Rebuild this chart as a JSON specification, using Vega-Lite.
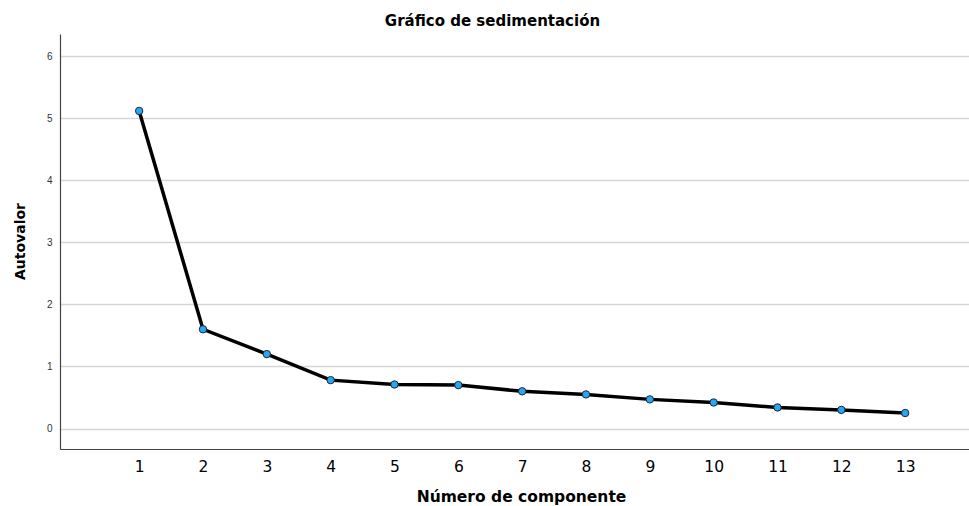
{
  "$schema": "https://vega.github.io/schema/vega-lite/v6.json",
  "autosize": "none",
  "width": 909,
  "height": 415,
  "padding": {"left": 60, "top": 34, "right": 0, "bottom": 57},
  "background": "white",
  "config": {
    "view": {"stroke": null},
    "font": "DejaVu Sans"
  },
  "title": {
    "text": "Gráfico de sedimentación",
    "font": "DejaVu Sans",
    "fontSize": 15,
    "fontWeight": "bold",
    "color": "#000000",
    "anchor": "middle",
    "dx": -22,
    "offset": 5
  },
  "data": {
    "values": [
      {"componente": 1, "autovalor": 5.12},
      {"componente": 2, "autovalor": 1.60},
      {"componente": 3, "autovalor": 1.20},
      {"componente": 4, "autovalor": 0.78},
      {"componente": 5, "autovalor": 0.71},
      {"componente": 6, "autovalor": 0.70},
      {"componente": 7, "autovalor": 0.60},
      {"componente": 8, "autovalor": 0.55},
      {"componente": 9, "autovalor": 0.47},
      {"componente": 10, "autovalor": 0.42},
      {"componente": 11, "autovalor": 0.34},
      {"componente": 12, "autovalor": 0.30},
      {"componente": 13, "autovalor": 0.25}
    ]
  },
  "encoding": {
    "x": {
      "field": "componente",
      "type": "quantitative",
      "scale": {"domain": [-0.24, 14.0], "nice": false, "zero": false},
      "axis": {
        "title": "Número de componente",
        "titleFont": "DejaVu Sans",
        "titleFontSize": 15.5,
        "titleFontWeight": "bold",
        "titleColor": "#000000",
        "titleX": 461,
        "titleY": 52,
        "titleBaseline": "alphabetic",
        "values": [1, 2, 3, 4, 5, 6, 7, 8, 9, 10, 11, 12, 13],
        "labelFontSize": 15.5,
        "labelColor": "#000000",
        "labelFont": "DejaVu Sans",
        "labelPadding": 10,
        "ticks": false,
        "grid": false,
        "domainColor": "#444444",
        "domainWidth": 1.2
      }
    },
    "y": {
      "field": "autovalor",
      "type": "quantitative",
      "scale": {"domain": [-0.33, 6.36], "nice": false, "zero": false},
      "axis": {
        "title": "Autovalor",
        "titleFont": "DejaVu Sans",
        "titleFontSize": 14,
        "titleFontWeight": "bold",
        "titleColor": "#000000",
        "titleX": -36,
        "titleY": 207,
        "titleBaseline": "alphabetic",
        "values": [0, 1, 2, 3, 4, 5, 6],
        "labelFontSize": 10,
        "labelColor": "#333333",
        "labelFont": "Liberation Sans",
        "labelPadding": 8,
        "ticks": false,
        "grid": true,
        "gridColor": "#d6d6d6",
        "gridWidth": 1.3,
        "domainColor": "#444444",
        "domainWidth": 1.2
      }
    }
  },
  "layer": [
    {
      "mark": {"type": "line", "color": "#000000", "strokeWidth": 3.5}
    },
    {
      "mark": {"type": "point", "filled": true, "fill": "#2aa6f0", "stroke": "#1a2a3a", "strokeWidth": 1, "size": 55, "opacity": 1}
    }
  ]
}
